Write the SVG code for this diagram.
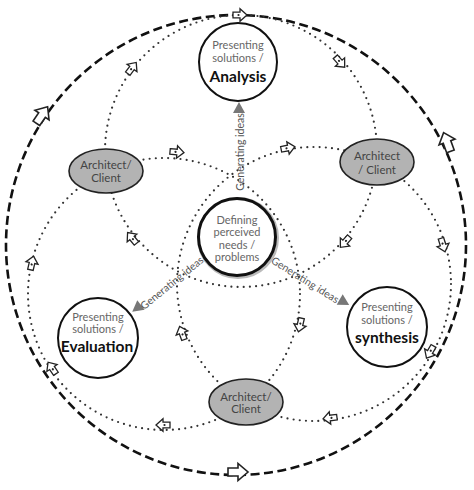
<svg xmlns="http://www.w3.org/2000/svg" width="474" height="490" viewBox="0 0 474 490">
<style>
.dot{fill:none;stroke:#333;stroke-width:2.2;stroke-dasharray:0 6.2;stroke-linecap:round}
.dash{fill:none;stroke:#111;stroke-width:2.6;stroke-dasharray:9 4.5}
.node{fill:#fff;stroke:#111;stroke-width:2}
.arch{fill:#b3b3b3;stroke:#222;stroke-width:1.6}
.t{font-family:Lato,'Liberation Sans',sans-serif;text-anchor:middle}
.s{font-size:11px;fill:#666}
.b{font-size:15.5px;font-weight:bold;fill:#111}
.a{font-size:11.5px;fill:#444}
.g{font-size:10.5px;fill:#555}
.tri{fill:#777}
</style>
<defs>
<g id="sa"><path d="M-7,-2.8H0V-6.2L7,0L0,6.2V2.8H-7Z" fill="#fff" stroke="#222" stroke-width="1.3" stroke-linejoin="miter"/><circle cx="-1.5" cy="0" r="1.1" fill="#222"/></g>
<g id="ba"><path d="M-10,-4H0V-8.5L10,0L0,8.5V4H-10Z" fill="#fff" stroke="#222" stroke-width="1.6"/></g>
<path id="tr" d="M6,0L-5,-6L-5,6Z"/>
</defs>
<g id="connectors">
<circle class="dash" cx="236" cy="245" r="230"/>
<circle class="dot" cx="241" cy="151" r="136"/>
<circle class="dot" cx="164" cy="294" r="136"/>
<circle class="dot" cx="314" cy="284" r="137"/>
<use href="#ba" transform="translate(42,115) rotate(-56)"/>
<use href="#ba" transform="translate(447,142) rotate(-110)"/>
<use href="#ba" transform="translate(238,472) rotate(0)"/>
<use href="#sa" transform="translate(240,15) rotate(0)"/>
<use href="#sa" transform="translate(132,68) rotate(-53)"/>
<use href="#sa" transform="translate(340,62) rotate(48)"/>
<use href="#sa" transform="translate(345,242) rotate(131)"/>
<use href="#sa" transform="translate(132,238) rotate(231)"/>
<use href="#sa" transform="translate(177,152) rotate(5)"/>
<use href="#sa" transform="translate(300,325) rotate(103)"/>
<use href="#sa" transform="translate(163,425) rotate(180)"/>
<use href="#sa" transform="translate(52,368) rotate(236)"/>
<use href="#sa" transform="translate(32,263) rotate(-77)"/>
<use href="#sa" transform="translate(288,148) rotate(-11)"/>
<use href="#sa" transform="translate(443,245) rotate(73)"/>
<use href="#sa" transform="translate(430,352) rotate(120)"/>
<use href="#sa" transform="translate(330,418) rotate(173)"/>
<use href="#sa" transform="translate(182,333) rotate(250)"/>
<use href="#tr" class="tri" transform="translate(239,108) rotate(-90)"/>
<use href="#tr" class="tri" transform="translate(137,308) rotate(142)"/>
<use href="#tr" class="tri" transform="translate(344,302) rotate(30)"/>
<text class="t g" transform="translate(240,152) rotate(-90)" dy="3.5">Generating ideas</text>
<text class="t g" transform="translate(172,283) rotate(-39)" dy="3.5">Generating ideas</text>
<text class="t g" transform="translate(305,280) rotate(32)" dy="3.5">Generating ideas</text>
</g>
<g id="analysis">
<circle class="node" cx="238" cy="62" r="39"/>
<text class="t s" x="238" y="49">Presenting</text>
<text class="t s" x="238" y="62">solutions /</text>
<text class="t b" x="238" y="82">Analysis</text>
</g>
<g id="center">
<circle cx="238" cy="238" r="39" fill="none" stroke="#bbb" stroke-width="4"/>
<circle cx="237" cy="237" r="38.5" fill="#fff" stroke="#111" stroke-width="3"/>
<text class="t s" x="237" y="224">Defining</text>
<text class="t s" x="237" y="236">perceived</text>
<text class="t s" x="237" y="249">needs /</text>
<text class="t s" x="237" y="261">problems</text>
</g>
<g id="evaluation">
<circle class="node" cx="98" cy="338" r="40"/>
<text class="t s" x="98" y="321">Presenting</text>
<text class="t s" x="98" y="333">solutions /</text>
<text class="t b" x="97" y="352">Evaluation</text>
</g>
<g id="synthesis">
<circle class="node" cx="387" cy="327" r="40"/>
<text class="t s" x="387" y="311">Presenting</text>
<text class="t s" x="387" y="324">solutions /</text>
<text class="t b" x="387" y="343">synthesis</text>
</g>
<g id="architect-left">
<ellipse class="arch" cx="106" cy="171" rx="37" ry="22"/>
<text class="t a" x="106" y="169">Architect/</text>
<text class="t a" x="106" y="182">Client</text>
</g>
<g id="architect-right">
<ellipse class="arch" cx="377" cy="162" rx="37" ry="23"/>
<text class="t a" x="377" y="160">Architect</text>
<text class="t a" x="377" y="174">/ Client</text>
</g>
<g id="architect-bottom">
<ellipse class="arch" cx="246" cy="402" rx="37" ry="23"/>
<text class="t a" x="246" y="401">Architect/</text>
<text class="t a" x="246" y="413">Client</text>
</g>
</svg>
